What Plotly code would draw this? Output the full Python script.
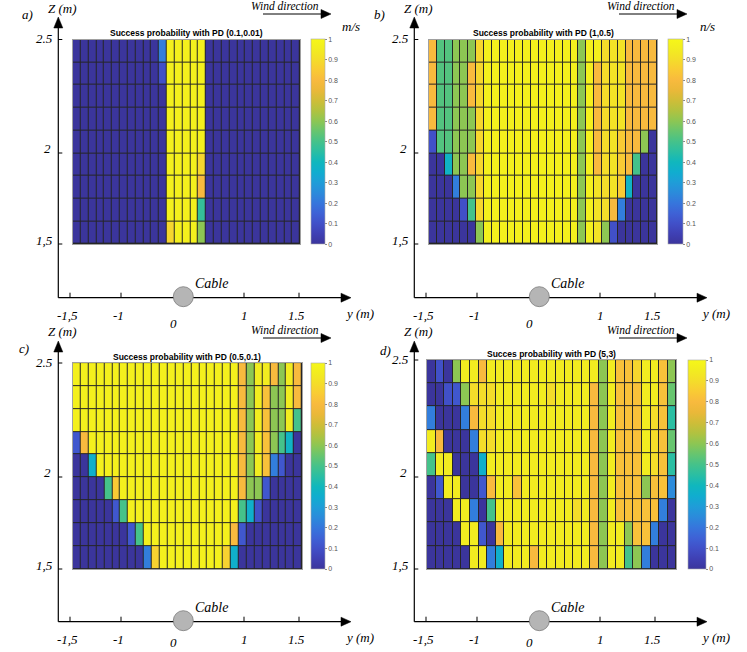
import plotly.graph_objects as go

W, H = 747, 652

# lateral position of the cells (m) and cell heights (m)
Y_POS = [-1.4, -1.3, -1.2, -1.1, -1.0, -0.9, -0.8, -0.7, -0.6, -0.5, -0.4, -0.3, -0.2, -0.1,
         0.0, 0.1, 0.2, 0.3, 0.4, 0.5, 0.6, 0.7, 0.8, 0.9, 1.0, 1.1, 1.2, 1.3, 1.4]
Z_POS = [2.444, 2.333, 2.222, 2.111, 2.0, 1.889, 1.778, 1.667, 1.556]  # top row first

# success probability, rows from top (Z=2.5) to bottom (Z=1.5)
PD_A = [
    [0, 0, 0, 0, 0, 0, 0, 0, 0, 0, 0, 0.22, 0.97, 0.97, 0.97, 0.97, 0.97, 0, 0, 0, 0, 0, 0, 0, 0, 0, 0, 0, 0],
    [0, 0, 0, 0, 0, 0, 0, 0, 0, 0, 0, 0.1, 0.97, 0.97, 0.97, 0.97, 0.97, 0, 0, 0, 0, 0, 0, 0, 0, 0, 0, 0, 0],
    [0, 0, 0, 0, 0, 0, 0, 0, 0, 0, 0, 0, 0.97, 0.97, 0.97, 0.97, 0.97, 0, 0, 0, 0, 0, 0, 0, 0, 0, 0, 0, 0],
    [0, 0, 0, 0, 0, 0, 0, 0, 0, 0, 0, 0, 0.97, 0.97, 0.97, 0.97, 0.97, 0, 0, 0, 0, 0, 0, 0, 0, 0, 0, 0, 0],
    [0, 0, 0, 0, 0, 0, 0, 0, 0, 0, 0, 0, 0.97, 0.97, 0.97, 0.97, 0.97, 0, 0, 0, 0, 0, 0, 0, 0, 0, 0, 0, 0],
    [0, 0, 0, 0, 0, 0, 0, 0, 0, 0, 0, 0, 0.97, 0.97, 0.97, 0.97, 0.88, 0, 0, 0, 0, 0, 0, 0, 0, 0, 0, 0, 0],
    [0, 0, 0, 0, 0, 0, 0, 0, 0, 0, 0, 0, 0.97, 0.97, 0.97, 0.97, 0.8, 0, 0, 0, 0, 0, 0, 0, 0, 0, 0, 0, 0],
    [0, 0, 0, 0, 0, 0, 0, 0, 0, 0, 0, 0, 0.97, 0.97, 0.97, 0.97, 0.47, 0, 0, 0, 0, 0, 0, 0, 0, 0, 0, 0, 0],
    [0, 0, 0, 0, 0, 0, 0, 0, 0, 0, 0, 0, 0.88, 0.97, 0.97, 0.97, 0.6, 0, 0, 0, 0, 0, 0, 0, 0, 0, 0, 0, 0],
]

PD_B = [
    [0.8, 0.52, 0.52, 0.6, 0.6, 0.6, 0.88, 0.97, 0.97, 0.97, 0.97, 0.97, 0.97, 0.97, 0.97, 0.97, 0.97, 0.97, 0.97,
     0.6, 0.97, 0.97, 0.9, 0.92, 0.92, 0.8, 0.8, 0.8, 0.8],
    [0.8, 0.52, 0.52, 0.6, 0.6, 0.8, 0.88, 0.97, 0.97, 0.97, 0.97, 0.97, 0.97, 0.97, 0.97, 0.97, 0.97, 0.97, 0.97,
     0.6, 0.97, 0.8, 0.9, 0.92, 0.92, 0.8, 0.8, 0.8, 0.8],
    [0.8, 0.52, 0.52, 0.6, 0.6, 0.8, 0.88, 0.97, 0.97, 0.97, 0.97, 0.97, 0.97, 0.97, 0.97, 0.97, 0.97, 0.97, 0.97,
     0.6, 0.97, 0.8, 0.9, 0.92, 0.92, 0.8, 0.8, 0.8, 0.8],
    [0.8, 0.52, 0.52, 0.6, 0.6, 0.6, 0.88, 0.97, 0.97, 0.97, 0.97, 0.97, 0.97, 0.97, 0.97, 0.97, 0.97, 0.97, 0.97,
     0.6, 0.97, 0.8, 0.9, 0.92, 0.92, 0.8, 0.8, 0.8, 0.8],
    [0.1, 0.52, 0.52, 0.6, 0.6, 0.6, 0.88, 0.97, 0.97, 0.97, 0.97, 0.97, 0.97, 0.97, 0.97, 0.97, 0.97, 0.97, 0.97,
     0.6, 0.97, 0.8, 0.9, 0.92, 0.85, 0.8, 0.8, 0.6, 0],
    [0, 0, 0.38, 0.6, 0.6, 0.8, 0.88, 0.97, 0.97, 0.97, 0.97, 0.97, 0.97, 0.97, 0.97, 0.97, 0.97, 0.97, 0.97,
     0.6, 0.97, 0.8, 0.9, 0.92, 0.85, 0.8, 0.5, 0, 0],
    [0, 0, 0, 0.22, 0.6, 0.6, 0.88, 0.97, 0.97, 0.97, 0.97, 0.97, 0.97, 0.97, 0.97, 0.97, 0.97, 0.97, 0.97,
     0.6, 0.97, 0.92, 0.9, 0.92, 0.85, 0.38, 0, 0, 0],
    [0, 0, 0, 0, 0.1, 0.5, 0.88, 0.97, 0.97, 0.97, 0.97, 0.97, 0.97, 0.97, 0.97, 0.97, 0.97, 0.97, 0.97,
     0.6, 0.97, 0.92, 0.9, 0.8, 0.22, 0, 0, 0, 0],
    [0, 0, 0, 0, 0, 0, 0.6, 0.97, 0.97, 0.97, 0.97, 0.97, 0.97, 0.97, 0.97, 0.97, 0.97, 0.97, 0.97,
     0.6, 0.97, 0.92, 0.6, 0.1, 0, 0, 0, 0, 0],
]

PD_C = [
    [0.97, 0.97, 0.97, 0.97, 0.97, 0.97, 0.97, 0.97, 0.97, 0.97, 0.97, 0.97, 0.97, 0.97, 0.97, 0.97, 0.97, 0.97, 0.97,
     0.97, 0.97, 0.8, 0.6, 0.95, 0.95, 0.8, 0.6, 0.95, 0.8],
    [0.97, 0.97, 0.97, 0.97, 0.97, 0.97, 0.97, 0.97, 0.97, 0.97, 0.97, 0.97, 0.97, 0.97, 0.97, 0.97, 0.97, 0.97, 0.97,
     0.97, 0.97, 0.8, 0.6, 0.95, 0.82, 0.6, 0.6, 0.95, 0.8],
    [0.97, 0.97, 0.97, 0.97, 0.97, 0.97, 0.97, 0.97, 0.97, 0.97, 0.97, 0.97, 0.97, 0.97, 0.97, 0.97, 0.97, 0.97, 0.97,
     0.97, 0.97, 0.8, 0.6, 0.95, 0.82, 0.6, 0.6, 0.95, 0.5],
    [0.12, 0.8, 0.97, 0.97, 0.97, 0.97, 0.97, 0.97, 0.97, 0.97, 0.97, 0.97, 0.97, 0.97, 0.97, 0.97, 0.97, 0.97, 0.97,
     0.97, 0.97, 0.8, 0.6, 0.95, 0.82, 0.6, 0.5, 0.38, 0],
    [0, 0, 0.36, 0.97, 0.97, 0.97, 0.97, 0.97, 0.97, 0.97, 0.97, 0.97, 0.97, 0.97, 0.97, 0.97, 0.97, 0.97, 0.97,
     0.97, 0.97, 0.8, 0.6, 0.95, 0.82, 0.22, 0.12, 0, 0],
    [0, 0, 0, 0, 0.5, 0.85, 0.97, 0.97, 0.97, 0.97, 0.97, 0.97, 0.97, 0.97, 0.97, 0.97, 0.97, 0.97, 0.97,
     0.97, 0.97, 0.8, 0.6, 0.6, 0.12, 0, 0, 0, 0],
    [0, 0, 0, 0, 0, 0.12, 0.5, 0.97, 0.97, 0.97, 0.97, 0.97, 0.97, 0.97, 0.97, 0.97, 0.97, 0.97, 0.97,
     0.97, 0.97, 0.5, 0.36, 0.1, 0, 0, 0, 0, 0],
    [0, 0, 0, 0, 0, 0, 0, 0.12, 0.5, 0.97, 0.97, 0.97, 0.97, 0.97, 0.97, 0.97, 0.97, 0.97, 0.97,
     0.97, 0.8, 0.12, 0, 0, 0, 0, 0, 0, 0],
    [0, 0, 0, 0, 0, 0, 0, 0, 0, 0.22, 0.87, 0.97, 0.97, 0.97, 0.97, 0.97, 0.97, 0.97, 0.97,
     0.87, 0.36, 0, 0, 0, 0, 0, 0, 0, 0],
]

PD_D = [
    [0, 0.1, 0, 0.6, 0.95, 0.95, 0.8, 0.95, 0.95, 0.95, 0.95, 0.95, 0.95, 0.95, 0.95, 0.95, 0.95, 0.95, 0.95,
     0.95, 0.6, 0.95, 0.82, 0.82, 0.88, 0.95, 0.95, 0.82, 0.6],
    [0, 0, 0.1, 0.12, 0.6, 0.9, 0.9, 0.9, 0.95, 0.95, 0.95, 0.95, 0.95, 0.95, 0.9, 0.95, 0.95, 0.95, 0.95,
     0.8, 0.6, 0.95, 0.82, 0.82, 0.82, 0.95, 0.95, 0.82, 0.55],
    [0.22, 0, 0, 0, 0.22, 0.8, 0.9, 0.9, 0.95, 0.95, 0.95, 0.95, 0.95, 0.95, 0.95, 0.95, 0.95, 0.95, 0.95,
     0.8, 0.6, 0.95, 0.82, 0.82, 0.82, 0.95, 0.9, 0.82, 0.45],
    [0.95, 0.8, 0, 0, 0, 0.22, 0.9, 0.9, 0.95, 0.95, 0.95, 0.95, 0.95, 0.95, 0.95, 0.95, 0.95, 0.95, 0.95,
     0.8, 0.6, 0.95, 0.82, 0.82, 0.82, 0.95, 0.9, 0.82, 0.55],
    [0.5, 0.95, 0.95, 0, 0, 0, 0.36, 0.95, 0.95, 0.95, 0.95, 0.95, 0.95, 0.95, 0.95, 0.95, 0.95, 0.95, 0.95,
     0.8, 0.6, 0.95, 0.82, 0.82, 0.82, 0.95, 0.9, 0.82, 0.45],
    [0, 0.12, 0.95, 0.95, 0, 0, 0.12, 0.8, 0.95, 0.95, 0.82, 0.95, 0.95, 0.95, 0.95, 0.95, 0.95, 0.95, 0.95,
     0.8, 0.6, 0.95, 0.82, 0.82, 0.82, 0.6, 0.82, 0.82, 0.25],
    [0, 0, 0, 0.95, 0.95, 0.22, 0, 0.5, 0.95, 0.95, 0.95, 0.95, 0.95, 0.95, 0.95, 0.95, 0.95, 0.9, 0.95,
     0.8, 0.6, 0.95, 0.82, 0.82, 0.82, 0.82, 0.82, 0.22, 0],
    [0, 0, 0, 0, 0.95, 0.95, 0.12, 0, 0.8, 0.95, 0.95, 0.95, 0.95, 0.95, 0.95, 0.95, 0.95, 0.95, 0.95,
     0.8, 0.6, 0.95, 0.95, 0.6, 0.82, 0.82, 0.22, 0, 0],
    [0, 0, 0, 0, 0, 0.95, 0.95, 0.22, 0.36, 0.95, 0.95, 0.95, 0.8, 0.95, 0.95, 0.95, 0.95, 0.95, 0.95,
     0.8, 0.6, 0.95, 0.95, 0.5, 0.6, 0.22, 0, 0, 0],
]

X_TICKS = ["-1,5", "-1", "0", "1", "1.5"]
Z_TICKS = ["2.5", "2", "1,5"]

# MATLAB parula, approximated (slightly muted like the print)
PARULA = [
    [0.00, "#3b359c"], [0.05, "#3f40b4"], [0.10, "#4150c8"], [0.15, "#3e62d6"],
    [0.20, "#3676dc"], [0.25, "#2b8bdb"], [0.30, "#1f9dd8"], [0.35, "#10adcf"],
    [0.40, "#10b7bd"], [0.45, "#2abea3"], [0.50, "#45c28a"], [0.55, "#67c56f"],
    [0.60, "#8dc653"], [0.65, "#b1c240"], [0.70, "#cfbd38"], [0.75, "#eab839"],
    [0.80, "#f8ba3e"], [0.85, "#f9cb34"], [0.90, "#f4dd2a"], [0.95, "#f2ec20"],
    [1.00, "#f6f718"],
]

SERIF = "Liberation Serif"
SANS = "Liberation Sans"


def fx(x):
    return x / W


def fy(y):
    return 1 - y / H


fig = go.Figure()
shapes = []
annotations = []


def text(x, y, s, size=13, family=SERIF, italic=True, xanchor="center", color="black"):
    annotations.append(dict(
        x=fx(x), y=fy(y), xref="paper", yref="paper", text=f"<i>{s}</i>" if italic else s,
        showarrow=False, xanchor=xanchor, yanchor="middle",
        font=dict(family=family, size=size, color=color),
    ))


def line(x0, y0, x1, y1, width=1.2, color="black"):
    shapes.append(dict(type="line", xref="paper", yref="paper",
                       x0=fx(x0), y0=fy(y0), x1=fx(x1), y1=fy(y1),
                       line=dict(color=color, width=width)))


def tri(pts):
    p = "M " + " L ".join(f"{fx(a):.5f} {fy(b):.5f}" for a, b in pts) + " Z"
    shapes.append(dict(type="path", xref="paper", yref="paper", path=p,
                       fillcolor="black", line=dict(color="black", width=0.5)))


def panel(i, rows, title, hm, cb, dx, dy, letter, letter_xy, title_y, zero_y, unit=None):
    x0, x1, y0, y1 = hm
    ax = "" if i == 1 else str(i)
    fig.add_trace(go.Heatmap(
        x=Y_POS, y=Z_POS[::-1], z=rows[::-1],
        zmin=0, zmax=1, colorscale=PARULA, xgap=1, ygap=1,
        xaxis="x" + ax, yaxis="y" + ax,
        colorbar=dict(
            x=fx(cb[0]), xanchor="left", xpad=0, ypad=0,
            y=fy((y0 + y1) / 2), yanchor="middle",
            len=y1 - y0, lenmode="pixels", thickness=cb[1], thicknessmode="pixels",
            tick0=0, dtick=0.1, ticks="outside", ticklen=2, tickcolor="#888",
            tickfont=dict(family=SANS, size=7, color="#555"),
            outlinecolor="#aaa", outlinewidth=0.6,
        ),
    ))
    common = dict(showgrid=False, zeroline=False, showticklabels=False, ticks="",
                  showline=True, mirror=True, linecolor="#a0a0a0", linewidth=1)
    fig.update_layout(**{
        "xaxis" + ax: dict(domain=[fx(x0), fx(x1)], range=[-1.45, 1.45],
                           anchor="y" + ax, **common),
        "yaxis" + ax: dict(domain=[fy(y1), fy(y0)], range=[1.5, 2.5],
                           anchor="x" + ax, **common),
    })
    text((x0 + x1) / 2, title_y, f"<b>{title}</b>", size=8.5, family=SANS, italic=False)

    # hand drawn axes of the sketch
    ox, oy = 58.3 + dx, 297.7 + dy
    line(ox, 27 + dy, ox, oy)
    tri([(ox, 17 + dy), (ox - 4.5, 28 + dy), (ox + 4.5, 28 + dy)])
    line(ox, oy, 343 + dx, oy)
    tri([(351 + dx, oy), (341 + dx, oy - 4.5), (341 + dx, oy + 4.5)])
    for zy in (y0, 153 + dy, y1):
        line(ox, zy, ox + 4, zy, width=1)
    text(55 + dx, y0 - 1, Z_TICKS[0], xanchor="right")
    text(53 + dx, 148 + dy, Z_TICKS[1], xanchor="right")
    text(55 + dx, y1 - 4, Z_TICKS[2], xanchor="right")
    for tx in (70, 121, 244, 299):
        line(tx + dx, oy - 5, tx + dx, oy, width=1)
    for lab, tx, ty in zip(X_TICKS, (67, 118, 173, 244, 296), (315, 315, zero_y, 315, 315)):
        text(tx + dx, ty + dy, lab)
    text(343 + dx, 313 + dy, "y (m)", xanchor="left")
    text(62.5 + dx, 8 + dy, "Z (m)")
    text(letter_xy[0], letter_xy[1], letter)
    shapes.append(dict(type="circle", xref="paper", yref="paper",
                       x0=fx(173.3 + dx), x1=fx(193.3 + dx),
                       y0=fy(286.7 + dy), y1=fy(306.7 + dy),
                       fillcolor="#b5b5b5", line=dict(color="#7a7a7a", width=0.8)))
    text(211 + dx, 283 + dy, "Cable", size=14)
    text(285 + dx, 6 + dy, "Wind direction", size=11.5)
    line(263 + dx, 14 + dy, 323 + dx, 14 + dy, width=1)
    tri([(331 + dx, 14 + dy), (321 + dx, 9.5 + dy), (321 + dx, 18.5 + dy)])
    if unit:
        text(351 + dx, 27 + dy, unit, size=13)


panel(1, PD_A, "Success probability with PD (0.1,0.01)", (72.7, 300, 39.5, 244), (311, 14),
      0, 0, "a)", (27.5, 15), 33, 323, unit="m/s")
panel(2, PD_B, "Success probability with PD (1,0.5)", (429, 657, 39.5, 244), (668, 15),
      356, 0, "b)", (379, 15), 33, 323, unit="n/s")
panel(3, PD_C, "Success probability with PD (0.5,0.1)", (72.7, 302, 363, 569), (311, 14),
      0, 324, "c)", (24, 348), 357, 318)
panel(4, PD_D, "Succes probability with PD (5,3)", (427, 676.3, 360, 569), (688, 18),
      356, 324, "d)", (385, 350), 354, 318)

fig.update_layout(
    width=W, height=H, margin=dict(l=0, r=0, t=0, b=0),
    paper_bgcolor="white", plot_bgcolor="#262626",
    showlegend=False, shapes=shapes, annotations=annotations,
)

fig.write_html("out.html", config={"displayModeBar": False},
               post_script="document.body.style.margin='0';")
